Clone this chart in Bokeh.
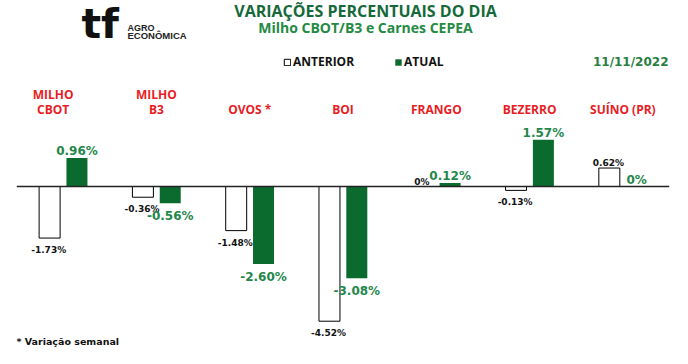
from bokeh.plotting import figure
from bokeh.models import Range1d, FactorRange, ColumnDataSource, Label, Span, Legend, LegendItem
from bokeh.transform import dodge
from bokeh.core.properties import value
from bokeh.embed import file_html
from bokeh.resources import INLINE

# ---- data ----
categories = ["MILHO CBOT", "MILHO B3", "OVOS *", "BOI", "FRANGO", "BEZERRO", "SUÍNO (PR)"]
category_labels = ["MILHO\nCBOT", "MILHO\nB3", "OVOS *", "BOI", "FRANGO", "BEZERRO", "SUÍNO (PR)"]
anterior = [-1.73, -0.36, -1.48, -4.52, 0.0, -0.13, 0.62]
atual = [0.96, -0.56, -2.60, -3.08, 0.12, 1.57, 0.0]
anterior_text = ["-1.73%", "-0.36%", "-1.48%", "-4.52%", "0%", "-0.13%", "0.62%"]
atual_text = ["0.96%", "-0.56%", "-2.60%", "-3.08%", "0.12%", "1.57%", "0%"]
series_names = ["ANTERIOR", "ATUAL"]
date_text = "11/11/2022"

# ---- styles ----
GREEN_BAR = "#0b6b2f"
GREEN_TXT = "#24874a"
TITLE_GREEN = "#15693a"
SUB_GREEN = "#248a44"
RED = "#e81c24"
HUM = "Open Sans"
VER = "DejaVu Sans"

p = figure(x_range=FactorRange(factors=categories, range_padding=0),
           y_range=Range1d(-5.436, 6.242),
           width=672, height=348, output_backend="svg", toolbar_location=None,
           min_border_left=16, min_border_right=3, min_border_top=0, min_border_bottom=0)
p.axis.visible = False
p.grid.visible = False
p.outline_line_color = None
p.background_fill_color = "white"
p.border_fill_color = "white"

src = ColumnDataSource(dict(cat=categories, ant=anterior, atu=atual))
r_ant = p.vbar(x=dodge("cat", -0.145, range=p.x_range), top="ant", bottom=0, width=0.225,
               fill_color="white", line_color="black", line_width=1, source=src)
r_atu = p.vbar(x=dodge("cat", 0.148, range=p.x_range), top="atu", bottom=0, width=0.225,
               fill_color=GREEN_BAR, line_color=None, source=src)

p.add_layout(Span(location=0, dimension="width", line_color="#222222", line_width=1.3))

# value labels
ant_src = ColumnDataSource(dict(
    x=categories, y=anterior, t=anterior_text,
    off=[-5 if v >= 0 else 7 for v in anterior],
    base=["alphabetic" if v >= 0 else "top" for v in anterior]))
p.text(x=dodge("x", -0.155, range=p.x_range), y="y", text="t", y_offset="off",
       text_baseline="base", text_align="center", text_font=value(VER),
       text_font_style="bold", text_font_size="9px", text_color="#111111", source=ant_src)

atu_src = ColumnDataSource(dict(
    x=categories, y=atual, t=atual_text,
    off=[-7 if v >= 0 else 6 for v in atual],
    base=["alphabetic" if v >= 0 else "top" for v in atual]))
p.text(x=dodge("x", 0.148, range=p.x_range), y="y", text="t", y_offset="off",
       text_baseline="base", text_align="center", text_font=value(VER),
       text_font_style="bold", text_font_size="12px", text_color=GREEN_TXT, source=atu_src)

# category labels
cat_src = ColumnDataSource(dict(x=categories, t=category_labels,
                                y=[2.315] * len(categories),
                                xo=[-10, 0, 0, 0, 0, 0, 0]))
p.text(x="x", y="y", text="t", x_offset="xo", text_align="center", text_baseline="bottom",
       text_font=value(HUM), text_font_style="bold", text_font_size="12px",
       text_color=RED, text_line_height=0.85, source=cat_src)

# legend
legend = Legend(items=[LegendItem(label=series_names[0], renderers=[r_ant]),
                       LegendItem(label=series_names[1], renderers=[r_atu])],
                orientation="horizontal", location=(267, 278),
                label_text_font=HUM, label_text_font_style="bold", label_text_font_size="12px",
                label_text_color="#111111", glyph_width=8, glyph_height=8, label_standoff=2,
                spacing=40, padding=0, margin=0, border_line_color=None,
                background_fill_alpha=0, label_height=12)
p.add_layout(legend)

# texts (screen units relative to frame bottom-left; frame left = 16px, bottom = 348px)
def lab(text, x, y, size, color, font=HUM, align="left", base="middle", style="bold"):
    p.add_layout(Label(x=x, y=y, x_units="screen", y_units="screen", text=text,
                       text_font=font, text_font_size=size, text_color=color,
                       text_align=align, text_baseline=base, text_font_style=style))

lab("VARIAÇÕES PERCENTUAIS DO DIA", 349, 338, "16px", TITLE_GREEN, align="center")
lab("Milho CBOT/B3 e Carnes CEPEA", 349, 321, "14px", SUB_GREEN, align="center")
lab(date_text, 652, 287, "12px", "#2a7d40", font=VER, align="right")
lab("* Variação semanal", 0, 7, "9.5px", "#111111", font=VER)
lab("tf", 65, 325, "41px", "#111111", font=VER, base="alphabetic")
lab("AGRO", 111, 321, "9px", "#222222", font="Liberation Sans", base="alphabetic")
lab("ECONÔMICA", 111, 313, "9.5px", "#222222", font="Liberation Sans", base="alphabetic")

open("out.html", "w").write(file_html(p, INLINE))
